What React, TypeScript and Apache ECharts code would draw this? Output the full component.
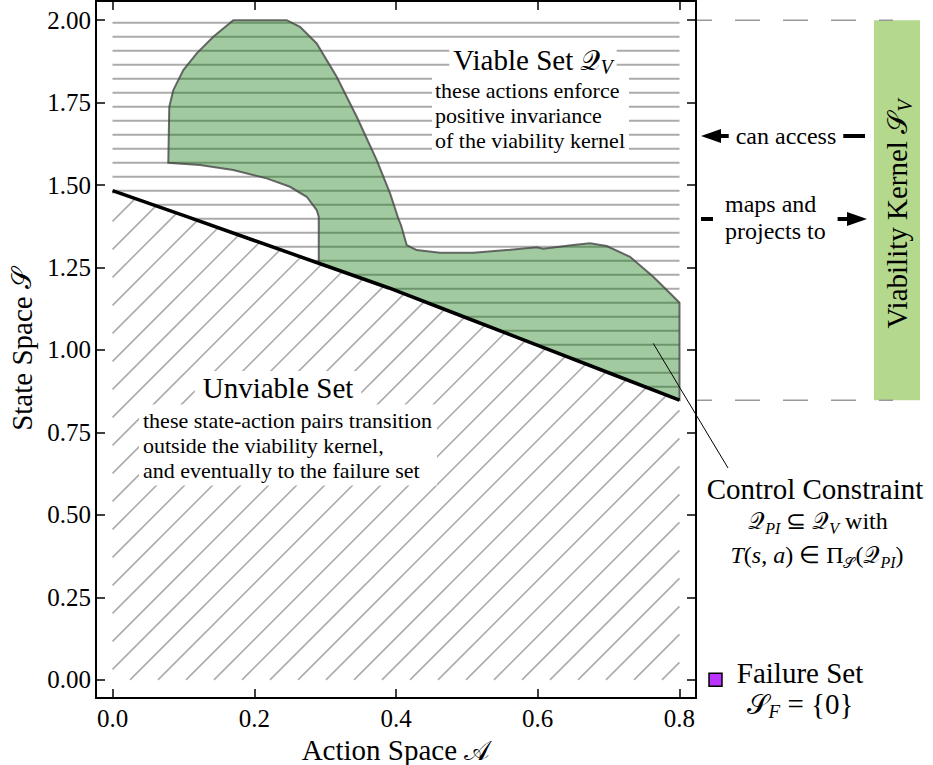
import React, { useEffect, useRef } from "react";
import * as echarts from "echarts";

const SERIF = "'Liberation Serif', 'Times New Roman', serif";
const MATH = "'DejaVu Serif', 'DejaVu Sans', serif";

const X_TICKS = [0, 0.2, 0.4, 0.6, 0.8];
const Y_TICKS = [0, 0.25, 0.5, 0.75, 1.0, 1.25, 1.5, 1.75, 2.0];
const X_RANGE = [-0.0233, 0.8233];
const Y_RANGE = [-0.055, 2.058];

// control-constraint boundary (state vs action)
const BOUNDARY: number[][] = [
  [0, 1.483], [0.1, 1.408], [0.2, 1.332], [0.291, 1.263], [0.39, 1.188],
  [0.5, 1.097], [0.6, 1.014], [0.7, 0.931], [0.8, 0.848],
];

// viable set outline (upper part, left to right)
const VIABLE_OUTER: number[][] = [
  [0.0787, 1.5676], [0.0801, 1.7373], [0.0858, 1.7879], [0.0999, 1.8485],
  [0.1188, 1.8991], [0.1422, 1.9494], [0.1704, 2.0], [0.2458, 2.0],
  [0.2646, 1.9797], [0.2881, 1.9294], [0.3163, 1.8282], [0.3446, 1.707],
  [0.3728, 1.5758], [0.3915, 1.4758], [0.4032, 1.3991], [0.407, 1.379],
  [0.4151, 1.3182], [0.4292, 1.303], [0.4621, 1.2948], [0.5091, 1.2948],
  [0.5562, 1.303], [0.5985, 1.3112], [0.6078, 1.307], [0.6502, 1.3182],
  [0.6737, 1.3233], [0.6973, 1.3152], [0.7302, 1.2827], [0.763, 1.2221],
  [0.7866, 1.1718], [0.8, 1.1433],
];
// viable set inner notch (from boundary back to the start)
const VIABLE_INNER: number[][] = [
  [0.291, 1.4039], [0.2881, 1.4242], [0.274, 1.4645], [0.2504, 1.4948],
  [0.2176, 1.5203], [0.1704, 1.5455], [0.1235, 1.5606],
];

const CONSTRAINT_POINT = [0.763, 1.02];
const KERNEL_RANGE = [0.848, 2.0];
const FAILURE_STATE = 0;

const VIABLE_POLY = [
  ...VIABLE_OUTER,
  ...BOUNDARY.filter((p) => p[0] >= 0.291).reverse(),
  ...VIABLE_INNER,
];

const HATCH = "#ababab";

function richStyles(size: number, sub: number, lh: number) {
  return {
    m: { fontFamily: MATH, fontSize: size * 0.95, lineHeight: lh, fill: "#000" },
    i: { fontFamily: SERIF, fontStyle: "italic", fontSize: size, lineHeight: lh, fill: "#000" },
    sub: { fontFamily: SERIF, fontStyle: "italic", fontSize: sub, lineHeight: sub, verticalAlign: "bottom", fill: "#000" },
    subm: { fontFamily: MATH, fontSize: sub * 0.95, lineHeight: sub, verticalAlign: "bottom", fill: "#000" },
  };
}

function txt(x: number, y: number, text: string, o: any = {}) {
  const size = o.size || 24;
  const lh = o.lh || size + 4;
  return {
    type: "text",
    x,
    y,
    z: 100,
    rotation: o.rotation || 0,
    style: {
      text,
      fontFamily: SERIF,
      fontSize: size,
      lineHeight: lh,
      fill: "#000",
      align: o.align || "center",
      verticalAlign: "middle",
      backgroundColor: o.bg,
      padding: o.padding,
      rich: richStyles(size, o.sub || Math.round(size * 0.68), lh),
    },
  };
}

function hatchRender(_params: any, api: any) {
  const bpx = BOUNDARY.map((p) => api.coord(p));
  const [x0, yBottom] = api.coord([0, 0]);
  const [x1, yTop] = api.coord([0.8, 2.0]);
  const byAt = (x: number) => {
    if (x <= bpx[0][0]) return bpx[0][1];
    for (let i = 0; i < bpx.length - 1; i++) {
      const a = bpx[i], b = bpx[i + 1];
      if (x >= a[0] && x <= b[0]) return a[1] + ((x - a[0]) / (b[0] - a[0])) * (b[1] - a[1]);
    }
    return bpx[bpx.length - 1][1];
  };
  const children: any[] = [];
  // horizontal hatch over the viable side
  for (let y = yTop + 2.7; y < yBottom; y += 14) {
    let xs = x0;
    if (y > bpx[0][1]) {
      if (y >= bpx[bpx.length - 1][1]) continue;
      for (let i = 0; i < bpx.length - 1; i++) {
        const a = bpx[i], b = bpx[i + 1];
        if (y >= a[1] && y <= b[1]) {
          xs = a[0] + ((y - a[1]) / (b[1] - a[1])) * (b[0] - a[0]);
          break;
        }
      }
    }
    children.push({ type: "line", shape: { x1: xs, y1: y, x2: x1, y2: y }, style: { stroke: HATCH, lineWidth: 2 } });
  }
  // diagonal hatch over the unviable side
  const step = 28;
  const cRef = x0 + 17.5 + yBottom;
  const cMin = x0 + bpx[0][1];
  let c = cRef - step * Math.floor((cRef - cMin) / step);
  for (; c <= x1 + yBottom; c += step) {
    let sx: number, sy: number;
    if (c - yBottom >= x0) { sx = c - yBottom; sy = yBottom; } else { sx = x0; sy = c - x0; }
    if (sy < byAt(sx)) continue;
    const f = (x: number) => c - x - byAt(x);
    let ex: number;
    if (f(x1) >= 0) ex = x1;
    else {
      let lo = sx, hi = x1;
      for (let k = 0; k < 40; k++) {
        const mid = (lo + hi) / 2;
        if (f(mid) >= 0) lo = mid; else hi = mid;
      }
      ex = lo;
    }
    children.push({ type: "line", shape: { x1: sx, y1: sy, x2: ex, y2: c - ex }, style: { stroke: HATCH, lineWidth: 1.6 } });
  }
  return { type: "group", children };
}

function polyRender(_params: any, api: any) {
  return {
    type: "polygon",
    shape: { points: VIABLE_POLY.map((p) => api.coord(p)) },
    style: { fill: "rgba(0,110,0,0.37)", stroke: "rgba(70,70,70,0.8)", lineWidth: 2 },
  };
}

const axisCommon = (ticks: number[]) => ({
  type: "value",
  axisLine: { show: true, onZero: false, lineStyle: { color: "#000", width: 2 } },
  axisTick: { show: true, inside: true, length: 9, customValues: ticks, lineStyle: { color: "#000", width: 1.5 } },
  splitLine: { show: false },
});

export default function App() {
  const ref = useRef<HTMLDivElement>(null);
  useEffect(() => {
    if (!ref.current) return;
    const chart = echarts.init(ref.current, undefined, { renderer: "svg" });
    chart.setOption({
      animation: false,
      backgroundColor: "#fff",
      grid: { left: 96, right: 237, top: 1, bottom: 67, containLabel: false, outerBoundsMode: "none" },
      xAxis: [
        {
          ...axisCommon(X_TICKS),
          position: "bottom",
          min: X_RANGE[0],
          max: X_RANGE[1],
          axisLabel: {
            customValues: X_TICKS,
            formatter: (v: number) => v.toFixed(1),
            fontFamily: SERIF,
            fontSize: 25,
            color: "#000",
            margin: 8,
          },
          name: "Action Space {m|𝒜}",
          nameLocation: "middle",
          nameGap: 32,
          nameTextStyle: {
            fontFamily: SERIF,
            fontSize: 29,
            color: "#000",
            rich: { m: { fontFamily: MATH, fontSize: 27, color: "#000" } },
          },
        },
        {
          ...axisCommon(X_TICKS),
          position: "top",
          min: X_RANGE[0],
          max: X_RANGE[1],
          axisLabel: { show: false },
        },
      ],
      yAxis: [
        {
          ...axisCommon(Y_TICKS),
          position: "left",
          min: Y_RANGE[0],
          max: Y_RANGE[1],
          axisLabel: {
            customValues: Y_TICKS,
            formatter: (v: number) => v.toFixed(2),
            fontFamily: SERIF,
            fontSize: 25,
            color: "#000",
            margin: 5,
          },
          name: "State Space {m|𝒮}",
          nameLocation: "middle",
          nameGap: 60,
          nameTextStyle: {
            fontFamily: SERIF,
            fontSize: 29,
            color: "#000",
            rich: { m: { fontFamily: MATH, fontSize: 27, color: "#000" } },
          },
        },
        {
          ...axisCommon(Y_TICKS),
          position: "right",
          min: Y_RANGE[0],
          max: Y_RANGE[1],
          axisLabel: { show: false },
        },
      ],
      series: [
        { type: "custom", name: "hatch", renderItem: hatchRender, data: [[0.4, 1]], clip: true, z: 1, silent: true },
        { type: "custom", name: "Viable Set", renderItem: polyRender, data: [[0.4, 1.5]], clip: true, z: 2, silent: true },
        {
          type: "line",
          name: "Control Constraint",
          data: BOUNDARY,
          showSymbol: false,
          lineStyle: { color: "#000", width: 3.5 },
          z: 5,
          silent: true,
        },
      ],
    });

    const px = (p: number[]) => chart.convertToPixel({ gridIndex: 0 }, p) as number[];
    const kTop = px([0.8, KERNEL_RANGE[1]])[1];
    const kBot = px([0.8, KERNEL_RANGE[0]])[1];
    const cp = px(CONSTRAINT_POINT);
    const fy = px([0, FAILURE_STATE])[1];

    const dash = (y: number) => ({
      type: "line",
      z: 60,
      shape: { x1: 697, y1: y, x2: 893, y2: y },
      style: { stroke: "#999", lineWidth: 1.5, lineDash: [25, 23], lineDashOffset: 10 },
    });

    chart.setOption({
      graphic: [
        { type: "rect", z: 50, shape: { x: 874, y: kTop, width: 46, height: kBot - kTop }, style: { fill: "#b4d98c" } },
        dash(kTop),
        dash(kBot),
        txt(897, (kTop + kBot) / 2 + 4, "Viability Kernel {m|𝒮}{sub|V}", { size: 29, lh: 36, rotation: Math.PI / 2 }),
        // can access arrow
        { type: "line", z: 70, shape: { x1: 865, y1: 136, x2: 712, y2: 136 }, style: { stroke: "#000", lineWidth: 4 } },
        { type: "polygon", z: 70, shape: { points: [[701, 136], [721, 129], [721, 143]] }, style: { fill: "#000" } },
        txt(786, 136, "can access", { size: 24, bg: "#fff", padding: [2, 7] }),
        // maps and projects to arrow
        { type: "line", z: 70, shape: { x1: 701, y1: 219, x2: 850, y2: 219 }, style: { stroke: "#000", lineWidth: 4 } },
        { type: "polygon", z: 70, shape: { points: [[867, 219], [847, 212], [847, 226]] }, style: { fill: "#000" } },
        txt(713, 217, "maps and\nprojects to", { size: 24, lh: 27, align: "left", bg: "#fff", padding: [2, 12, 2, 12] }),
        // annotations inside the plot
        txt(533, 60, "Viable Set {m|𝒬}{sub|V}", { size: 29, lh: 34, bg: "#fff", padding: [0, 4, 0, 4] }),
        txt(432, 115, "these actions enforce\npositive invariance\nof the viability kernel", { size: 22, lh: 25, align: "left", bg: "#fff", padding: [3, 4, 3, 3] }),
        txt(278, 388, "Unviable Set", { size: 29, lh: 32, bg: "#fff", padding: [1, 8] }),
        txt(139, 445, "these state-action pairs transition\noutside the viability kernel,\nand eventually to the failure set", { size: 22, lh: 25, align: "left", bg: "#fff", padding: [3, 5, 3, 4] }),
        // control constraint
        { type: "line", z: 80, shape: { x1: cp[0], y1: cp[1], x2: 728, y2: 468 }, style: { stroke: "#000", lineWidth: 1 } },
        txt(815, 489, "Control Constraint", { size: 29, lh: 32 }),
        txt(818, 521, "{m|𝒬}{sub|PI} ⊆ {m|𝒬}{sub|V} with", { size: 24, lh: 30, sub: 16 }),
        txt(817, 555, "{i|T}({i|s}, {i|a}) ∈ Π{subm|𝒮}({m|𝒬}{sub|PI})", { size: 24, lh: 30, sub: 16 }),
        // failure set
        { type: "rect", z: 80, shape: { x: 709, y: fy - 6.5, width: 13, height: 13 }, style: { fill: "#bb33ff", stroke: "#000", lineWidth: 1.5 } },
        txt(800, 673, "Failure Set", { size: 29, lh: 32 }),
        txt(800, 704, "{m|𝒮}{sub|F} = {0}", { size: 29, lh: 34, sub: 19 }),
      ],
    });
    return () => chart.dispose();
  }, []);
  return <div ref={ref} style={{ position: "fixed", left: 0, top: 0, width: 933, height: 765 }} />;
}
